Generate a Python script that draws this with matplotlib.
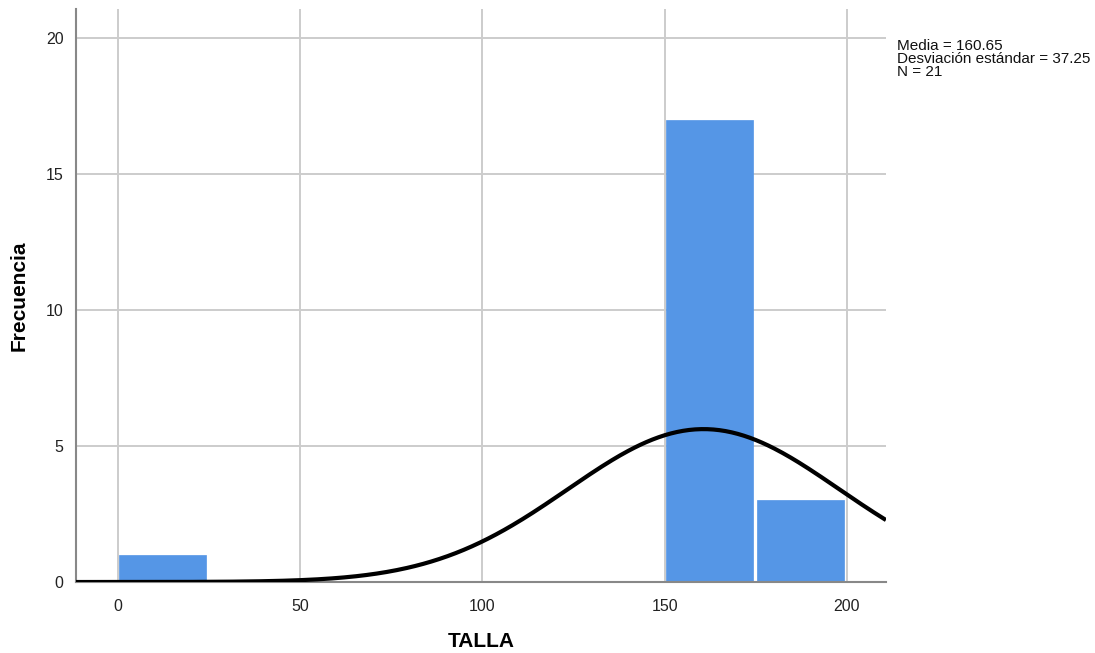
import numpy as np
import matplotlib.pyplot as plt

# histogram of TALLA (bin width 25)
bin_edges = [0, 25, 50, 75, 100, 125, 150, 175, 200]
counts = [1, 0, 0, 0, 0, 0, 17, 3]
media = 160.65
desv = 37.25
n = 21

x_ticks = [0, 50, 100, 150, 200]
y_ticks = [0, 5, 10, 15, 20]

plt.rcParams['font.family'] = ['Liberation Sans', 'DejaVu Sans']

fig = plt.figure(figsize=(10.95, 6.53), dpi=100)
ax = fig.add_axes([0.0694, 0.1087, 0.7397, 0.8775])

ax.grid(True, color='#cccccc', linewidth=1.4, zorder=0)
ax.set_axisbelow(True)

lefts = np.array(bin_edges[:-1])
widths = np.diff(bin_edges)
ax.bar(lefts + 0.3, counts, width=widths - 1.0, align='edge', color='#5596e6',
       edgecolor='#5596e6', linewidth=0.5, zorder=2)

# normal curve scaled to counts
xs = np.linspace(-11.5, 210.7, 400)
bw = bin_edges[1] - bin_edges[0]
pdf = np.exp(-0.5 * ((xs - media) / desv) ** 2) / (desv * np.sqrt(2 * np.pi))
ax.plot(xs, n * bw * pdf, color='black', linewidth=3, zorder=3,
        solid_capstyle='butt')

ax.set_xlim(-11.5, 210.7)
ax.set_ylim(0, 21.07)
ax.set_xticks(x_ticks)
ax.set_yticks(y_ticks)
ax.tick_params(axis='both', length=0, labelsize=11.5, colors='#222222')
ax.tick_params(axis='x', pad=12)
ax.tick_params(axis='y', pad=9)

for side in ['top', 'right']:
    ax.spines[side].set_visible(False)
ax.spines['left'].set_color('#888888')
ax.spines['left'].set_linewidth(1.5)
ax.spines['bottom'].set_color('#888888')
ax.spines['bottom'].set_linewidth(1.5)

ax.set_xlabel('TALLA', fontsize=15, fontweight='bold', labelpad=13)
ax.set_ylabel('Frecuencia', fontsize=15, fontweight='bold', labelpad=12)

fig.text(0.819, 0.941, 'Media = %.2f\nDesviación estándar = %.2f\nN = %d' % (media, desv, n),
         fontsize=11, va='top', ha='left', linespacing=0.95, color='#111111')

fig.savefig('out.png', dpi=100)
